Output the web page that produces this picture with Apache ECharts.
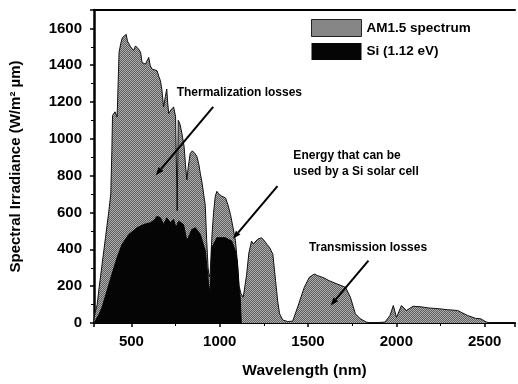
<!DOCTYPE html>
<html>
<head>
<meta charset="utf-8">
<script src="https://cdn.jsdelivr.net/npm/echarts@6/dist/echarts.min.js"></script>
<style>
  html, body { margin: 0; padding: 0; background: #fff; }
  #chart { width: 518px; height: 384px; }
</style>
</head>
<body>
<div id="chart"></div>
<script>
// AM1.5 solar spectrum, [wavelength nm, W/m2 um]
const am15 = [
  [285,0],[295,60],[306,100],[318,200],[334,320],[353,463],[372,607],[383,700],[389,930],[393,1127],
  [407,1147],[419,1119],[426,1110],[430,1470],[440,1520],[449,1550],[458,1545],[470,1568],[478,1530],
  [486,1523],[495,1500],[503,1496],[512,1480],[523,1505],[534,1500],[541,1487],[552,1470],[560,1415],
  [570,1420],[579,1406],[598,1442],[606,1400],[616,1379],[632,1375],[645,1370],[655,1340],[664,1316],
  [672,1270],[682,1173],[692,1230],[700,1271],[705,1200],[711,1137],[725,1160],[739,1173],[750,1120],
  [756,1110],[759,610],[762,610],[765,1101],[775,1080],[786,1029],[798,960],[806,860],[814,777],
  [822,850],[833,921],[845,935],[852,939],[860,920],[871,903],[882,860],[890,813],[900,760],[908,706],
  [918,640],[926,450],[934,300],[940,250],[946,270],[955,460],[965,600],[975,690],[984,715],[995,700],
  [1010,690],[1033,679],[1047,640],[1061,589],[1075,520],[1089,447],[1100,330],[1110,200],[1120,160],
  [1133,140],[1140,150],[1152,260],[1165,380],[1180,445],[1190,430],[1199,440],[1215,455],[1236,463],
  [1250,450],[1268,427],[1283,409],[1301,373],[1316,231],[1328,120],[1339,50],[1357,16],[1385,8],
  [1413,10],[1441,86],[1479,194],[1507,248],[1535,266],[1553,258],[1590,245],[1619,230],[1665,212],
  [1712,194],[1740,140],[1768,50],[1796,23],[1830,5],[1860,0],[1936,5],[1964,41],[1983,95],[2001,30],
  [2029,95],[2057,68],[2095,91],[2140,88],[2179,82],[2235,78],[2291,72],[2347,68],[2403,41],[2450,25],
  [2478,23],[2510,5],[2540,0],[2672,0]
];

// part usable by a Si cell (1.12 eV)
const si = [
  [288,0],[297,15],[318,50],[334,86],[362,176],[390,266],[419,356],[447,427],[485,481],[532,517],
  [569,535],[607,544],[630,560],[645,580],[664,571],[682,535],[701,571],[720,544],[739,562],[752,517],
  [767,553],[795,535],[814,445],[842,508],[862,517],[890,481],[918,392],[937,212],[946,158],[955,409],
  [984,463],[1031,463],[1068,445],[1088,392],[1100,330],[1108,200],[1116,140],[1122,0]
];

const xTickLabels = [500, 1000, 1500, 2000, 2500];
const yTickLabels = [0, 200, 400, 600, 800, 1000, 1200, 1400, 1600];
const seriesNames = ['AM1.5 spectrum', 'Si (1.12 eV)'];

// annotations in data space
const notes = [
  { text: 'Thermalization losses', at: [756, 1250] },
  { text: 'Energy that can be', at: [1417, 910] },
  { text: 'used by a Si solar cell', at: [1417, 824] },
  { text: 'Transmission losses', at: [1506, 409] }
];
const arrows = [
  [[963, 1174], [638, 803]],
  [[1327, 743], [1075, 458]],
  [[1842, 339], [1628, 95]]
];

const FONT = '"Liberation Sans", Arial, sans-serif';

function stipple(a, b) {
  const c = document.createElement('canvas');
  c.width = 2; c.height = 2;
  const g = c.getContext('2d');
  g.fillStyle = a; g.fillRect(0, 0, 2, 2);
  g.fillStyle = b; g.fillRect(0, 0, 1, 1); g.fillRect(1, 1, 1, 1);
  return c;
}
const grayFill = { image: stipple('#5f5f5f', '#adadad'), repeat: 'repeat' };

const chart = echarts.init(document.getElementById('chart'));

const xMin = 288, xMax = 2672;
chart.setOption({
  animation: false,
  backgroundColor: '#fff',
  textStyle: { fontFamily: FONT },
  grid: { left: 92, right: 0, top: 10, bottom: 58, containLabel: false },
  legend: {
    orient: 'vertical', left: 306, top: 14,
    itemWidth: 50, itemHeight: 17, itemGap: 6,
    icon: 'rect',
    textStyle: { fontFamily: FONT, fontSize: 13.5, fontWeight: 'bold', color: '#000' },
    data: [
      { name: seriesNames[0], itemStyle: { color: grayFill, borderColor: '#222', borderWidth: 1 } },
      { name: seriesNames[1], itemStyle: { color: '#050505' } }
    ]
  },
  xAxis: [{
    type: 'value', min: xMin, max: xMax, splitNumber: 5,
    name: 'Wavelength (nm)', nameLocation: 'middle', nameGap: 40,
    nameTextStyle: { fontFamily: FONT, fontSize: 15.5, fontWeight: 'bold', color: '#000' },
    axisLine: { lineStyle: { color: '#000', width: 2 } },
    axisTick: { length: 4, lineStyle: { color: '#000', width: 1.5 } },
    minorTick: { show: true, splitNumber: 2, length: 3, lineStyle: { color: '#000', width: 1 } },
    splitLine: { show: false },
    axisLabel: {
      margin: 11, fontFamily: FONT, fontSize: 15, fontWeight: 'bold', color: '#000',
      formatter: (v) => xTickLabels.includes(v) ? String(v) : ''
    }
  }, {
    type: 'value', position: 'top', min: xMin, max: xMax,
    axisLine: { lineStyle: { color: '#000', width: 2 } },
    axisTick: { show: false }, axisLabel: { show: false }, splitLine: { show: false }
  }],
  yAxis: {
    type: 'value', min: 0, max: 1700, interval: 200,
    name: 'Spectral Irradiance (W/m² µm)', nameLocation: 'middle', nameGap: 71, nameRotate: 90,
    nameTextStyle: { fontFamily: FONT, fontSize: 15, fontWeight: 'bold', color: '#000' },
    axisLine: { show: true, lineStyle: { color: '#000', width: 2.5 } },
    axisTick: { length: 4, lineStyle: { color: '#000', width: 1.5 } },
    minorTick: { show: true, splitNumber: 2, length: 3, lineStyle: { color: '#000', width: 1 } },
    splitLine: { show: false },
    axisLabel: {
      margin: 12, fontFamily: FONT, fontSize: 15, fontWeight: 'bold', color: '#000',
      formatter: (v) => yTickLabels.includes(v) ? String(v) : ''
    }
  },
  series: [{
    name: seriesNames[0], type: 'line', data: am15, showSymbol: false, smooth: false,
    itemStyle: { color: '#8c8c8c' },
    lineStyle: { color: '#111', width: 1 },
    areaStyle: { color: grayFill, opacity: 1 },
    z: 2
  }, {
    name: seriesNames[1], type: 'line', data: si, showSymbol: false, smooth: false,
    itemStyle: { color: '#050505' },
    lineStyle: { color: '#050505', width: 1 },
    areaStyle: { color: '#050505', opacity: 1 },
    z: 3
  }]
});

// arrows and labels placed through the axis scales
const px = (p) => chart.convertToPixel({ gridIndex: 0 }, p);
const graphic = [];
notes.forEach((n) => {
  const [x, y] = px(n.at);
  graphic.push({
    type: 'text', x, y, z: 10,
    style: { text: n.text, fontFamily: FONT, fontSize: 12, fontWeight: 'bold', fill: '#000', textVerticalAlign: 'middle' }
  });
});
arrows.forEach(([from, to]) => {
  const a = px(from), b = px(to);
  const ang = Math.atan2(b[1] - a[1], b[0] - a[0]);
  const L = 8, W = 3;
  const bx = b[0] - L * Math.cos(ang), by = b[1] - L * Math.sin(ang);
  graphic.push({
    type: 'line', z: 10,
    shape: { x1: a[0], y1: a[1], x2: bx, y2: by },
    style: { stroke: '#000', lineWidth: 2 }
  });
  graphic.push({
    type: 'polygon', z: 10,
    shape: { points: [
      [b[0], b[1]],
      [bx + W * Math.sin(ang), by - W * Math.cos(ang)],
      [bx - W * Math.sin(ang), by + W * Math.cos(ang)]
    ] },
    style: { fill: '#000' }
  });
});
chart.setOption({ graphic });
</script>
</body>
</html>
